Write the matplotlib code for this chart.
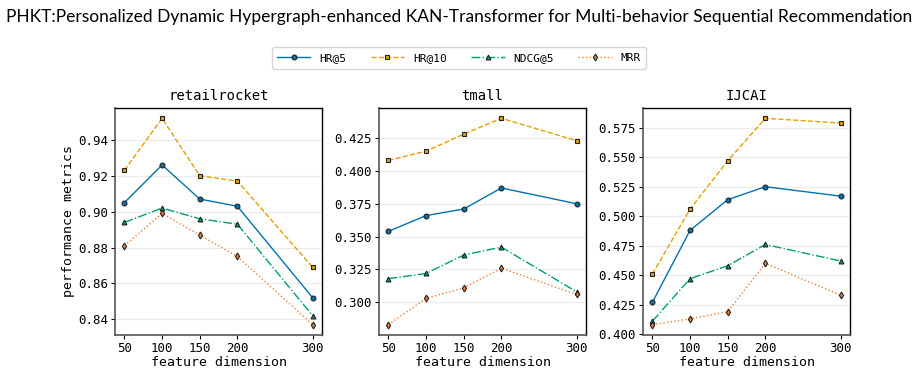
import matplotlib
matplotlib.use('Agg')
import matplotlib.pyplot as plt
from matplotlib.ticker import FormatStrFormatter, MultipleLocator

dims = [50, 100, 150, 200, 300]
datasets = ['retailrocket', 'tmall', 'IJCAI']
metrics = ['HR@5', 'HR@10', 'NDCG@5', 'MRR']

retail_hr5 = [0.905, 0.926, 0.907, 0.903, 0.852]
retail_hr10 = [0.923, 0.952, 0.920, 0.917, 0.869]
retail_ndcg5 = [0.894, 0.902, 0.896, 0.893, 0.842]
retail_mrr = [0.881, 0.899, 0.887, 0.875, 0.837]

tmall_hr5 = [0.354, 0.366, 0.371, 0.387, 0.375]
tmall_hr10 = [0.408, 0.415, 0.428, 0.440, 0.423]
tmall_ndcg5 = [0.318, 0.322, 0.336, 0.342, 0.308]
tmall_mrr = [0.283, 0.303, 0.311, 0.326, 0.306]

ijcai_hr5 = [0.427, 0.488, 0.514, 0.525, 0.517]
ijcai_hr10 = [0.451, 0.506, 0.547, 0.583, 0.579]
ijcai_ndcg5 = [0.411, 0.447, 0.458, 0.476, 0.462]
ijcai_mrr = [0.408, 0.413, 0.419, 0.460, 0.433]

values = [
    [retail_hr5, retail_hr10, retail_ndcg5, retail_mrr],
    [tmall_hr5, tmall_hr10, tmall_ndcg5, tmall_mrr],
    [ijcai_hr5, ijcai_hr10, ijcai_ndcg5, ijcai_mrr],
]

colors = ['#0072B2', '#E69F00', '#009E73', '#E8803A']
styles = ['-', '--', '-.', ':']
markers = ['o', 's', '^', 'd']
yfmt = ['%.2f', '%.3f', '%.3f']
ystep = [0.02, 0.025, 0.025]

plt.rcParams['font.family'] = ['DejaVu Sans Mono']

fig, axes = plt.subplots(1, 3, figsize=(9.18, 3.92), dpi=100)
fig.subplots_adjust(left=0.1253, right=0.926, top=0.7245, bottom=0.1454, wspace=0.275)

for ax, name, series, fmt, step in zip(axes, datasets, values, yfmt, ystep):
    for i, vals in enumerate(series):
        ax.plot(dims, vals, linestyle=styles[i], color=colors[i], linewidth=1.0,
                marker=markers[i], markersize=3.5, markeredgecolor='#222222',
                markeredgewidth=0.8, markerfacecolor=colors[i], label=metrics[i])
    ax.set_title(name, fontsize=10)
    ax.set_xlabel('feature dimension', fontsize=9.5, labelpad=1)
    ax.set_xticks(dims)
    ax.yaxis.set_major_locator(MultipleLocator(step))
    ax.yaxis.set_major_formatter(FormatStrFormatter(fmt))
    ax.tick_params(labelsize=9, length=3, pad=2)
    ax.grid(axis='y', color='#ebebeb', linewidth=0.8)
    ax.set_axisbelow(True)
    for side in ['left', 'bottom']:
        ax.spines[side].set_color('#555555')
        ax.spines[side].set_linewidth(1.2)
    for side in ['top', 'right']:
        ax.spines[side].set_color('black')
        ax.spines[side].set_linewidth(1.0)

axes[0].set_ylabel('performance metrics', fontsize=9.5, labelpad=2)

handles, labels = axes[0].get_legend_handles_labels()
fig.legend(handles, labels, loc='center', bbox_to_anchor=(0.5, 0.852), ncol=4,
           fontsize=8, frameon=True, edgecolor='#cccccc', handlelength=3,
           columnspacing=2.2, borderpad=0.5)

fig.suptitle('PHKT:Personalized Dynamic Hypergraph-enhanced KAN-Transformer for Multi-behavior Sequential Recommendation',
             y=0.977, fontsize=12.5, family=['Lato', 'DejaVu Sans'])

fig.savefig('out.png', dpi=100)
